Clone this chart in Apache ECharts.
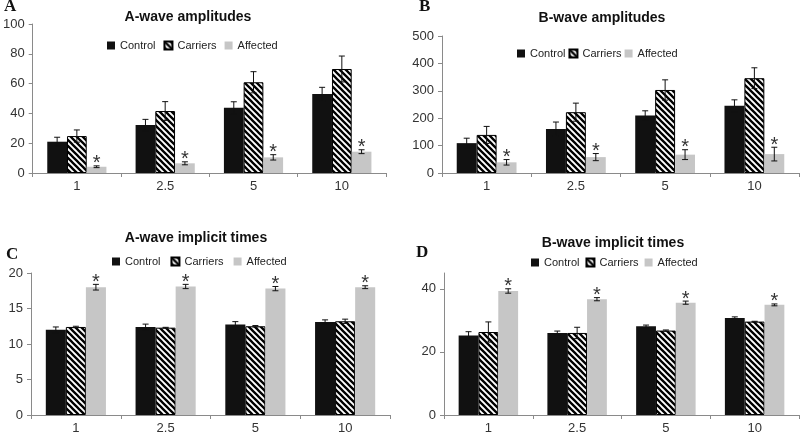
<!DOCTYPE html>
<html><head><meta charset="utf-8">
<script src="https://cdn.jsdelivr.net/npm/echarts@6/dist/echarts.min.js"></script>
<style>html,body{margin:0;padding:0;background:#fff}#c{width:800px;height:435px}</style>
</head><body><div id="c"></div>
<script>
const categories = ['1', '2.5', '5', '10'];
const seriesNames = ['Control', 'Carriers', 'Affected'];

// A-wave amplitudes
const aAmpControl = [21, 32.2, 43.8, 53];
const aAmpControlErr = [3, 3.8, 4, 4.5];
const aAmpCarriers = [24.8, 41.6, 60.9, 69.8];
const aAmpCarriersErr = [4.1, 6.3, 7.1, 8.7];
const aAmpAffected = [4.2, 6.5, 10.5, 14.3];
const aAmpAffectedErr = [0.6, 1, 1.8, 1.3];

// B-wave amplitudes
const bAmpControl = [109, 161, 210, 245];
const bAmpControlErr = [18, 25, 17, 22];
const bAmpCarriers = [139, 222, 303, 346];
const bAmpCarriersErr = [31, 33, 37, 38];
const bAmpAffected = [39, 58, 67, 69];
const bAmpAffectedErr = [10, 13, 18, 25];

// A-wave implicit times
const aTimeControl = [12.0, 12.4, 12.75, 13.1];
const aTimeControlErr = [0.4, 0.4, 0.4, 0.3];
const aTimeCarriers = [12.4, 12.3, 12.5, 13.2];
const aTimeCarriersErr = [0.1, 0.05, 0.1, 0.3];
const aTimeAffected = [18.0, 18.1, 17.8, 18.0];
const aTimeAffectedErr = [0.4, 0.3, 0.3, 0.2];

// B-wave implicit times
const bTimeControl = [25.2, 26.0, 28.1, 30.7];
const bTimeControlErr = [1.2, 0.6, 0.4, 0.4];
const bTimeCarriers = [26.3, 26.0, 26.75, 29.6];
const bTimeCarriersErr = [3.2, 1.8, 0.2, 0.1];
const bTimeAffected = [39.3, 36.7, 35.6, 34.9];
const bTimeAffectedErr = [0.7, 0.5, 0.5, 0.3];

const panelTitles = ['A-wave amplitudes', 'B-wave amplitudes', 'A-wave implicit times', 'B-wave implicit times'];
const panelLetters = ['A', 'B', 'C', 'D'];

// ---------- styling / layout ----------
const GAP = 0.33;
const tile = document.createElement('canvas');
tile.width = 6; tile.height = 6;
(function () {
  const g = tile.getContext('2d');
  g.fillStyle = '#fff'; g.fillRect(0, 0, 6, 6);
  g.strokeStyle = '#000'; g.lineWidth = 2.3;
  g.beginPath();
  g.moveTo(-2, -2); g.lineTo(8, 8);
  g.moveTo(-2, 4); g.lineTo(2, 8);
  g.moveTo(4, -2); g.lineTo(8, 2);
  g.stroke();
})();
const hatch = { image: tile, repeat: 'repeat' };

const panels = [
  { data: [[aAmpControl, aAmpControlErr], [aAmpCarriers, aAmpCarriersErr], [aAmpAffected, aAmpAffectedErr]],
    grid: { left: 27, width: 359, top: 24, height: 149 }, y: { max: 100, interval: 20 },
    legend: { left: 107, top: 40, itemGap: 8 }, title: [188, 17], letter: [4, 7] },
  { data: [[bAmpControl, bAmpControlErr], [bAmpCarriers, bAmpCarriersErr], [bAmpAffected, bAmpAffectedErr]],
    grid: { left: 442, width: 357, top: 36, height: 137 }, y: { max: 500, interval: 100 },
    legend: { left: 517, top: 48, itemGap: 3 }, title: [602, 18], letter: [419, 7] },
  { data: [[aTimeControl, aTimeControlErr], [aTimeCarriers, aTimeCarriersErr], [aTimeAffected, aTimeAffectedErr]],
    grid: { left: 31, width: 359, top: 273, height: 147 }, y: { max: 20, interval: 5 },
    legend: { left: 112, top: 256, itemGap: 10 }, title: [196, 238], letter: [6, 255] },
  { data: [[bTimeControl, bTimeControlErr], [bTimeCarriers, bTimeCarriersErr], [bTimeAffected, bTimeAffectedErr]],
    grid: { left: 444, width: 355, top: 273, height: 146 }, y: { max: 45, interval: 20, hideMax: true },
    legend: { left: 531, top: 257, itemGap: 6 }, title: [613, 243], letter: [416, 253] }
];

const colors = ['#111111', hatch, '#c6c6c6'];
const axisColor = '#8a8a8a';
const labelFont = 'Liberation Sans, Arial, sans-serif';

function errRender(k, star) {
  return function (params, api) {
    const i = api.value(0), v = api.value(1), e = api.value(2);
    const band = api.size([1, 0])[0];
    const w = band * (1 - GAP) / 3;
    const x = api.coord([i, v])[0] + (k - 1) * w;
    const yT = api.coord([i, v + e])[1];
    const yB = api.coord([i, v - e])[1];
    const st = { stroke: '#111', lineWidth: 1 };
    const ch = [
      { type: 'line', shape: { x1: x, y1: yT, x2: x, y2: yB }, style: st },
      { type: 'line', shape: { x1: x - 3, y1: yT, x2: x + 3, y2: yT }, style: st },
      { type: 'line', shape: { x1: x - 3, y1: yB, x2: x + 3, y2: yB }, style: st }
    ];
    if (star) {
      ch.push({ type: 'text', style: { text: '*', x: x, y: yT - 12, fill: '#333', font: '20px ' + labelFont, textAlign: 'center', textVerticalAlign: 'top' } });
    }
    return { type: 'group', children: ch };
  };
}

const grid = [], xAxis = [], yAxis = [], series = [], legend = [], graphic = [];
panels.forEach((p, gi) => {
  grid.push(p.grid);
  xAxis.push({
    type: 'category', gridIndex: gi, data: categories, boundaryGap: true,
    axisLine: { lineStyle: { color: axisColor } },
    axisTick: { show: true, length: 4, alignWithLabel: false, lineStyle: { color: axisColor } },
    axisLabel: { color: '#333', fontSize: 13, fontFamily: labelFont, margin: 7 }
  });
  yAxis.push({
    type: 'value', gridIndex: gi, min: 0, max: p.y.max, interval: p.y.interval,
    axisLine: { show: true, lineStyle: { color: axisColor } },
    axisTick: { show: true, length: 4, lineStyle: { color: axisColor } },
    splitLine: { show: false },
    axisLabel: { color: '#333', fontSize: 13, fontFamily: labelFont, margin: 8, showMaxLabel: !p.y.hideMax }
  });
  p.data.forEach((d, k) => {
    series.push({
      type: 'bar', name: seriesNames[k], xAxisIndex: gi, yAxisIndex: gi,
      data: d[0], barGap: '0%', barCategoryGap: (GAP * 100) + '%',
      itemStyle: { color: colors[k], borderColor: k === 1 ? '#000' : null, borderWidth: k === 1 ? 1 : 0 },
      emphasis: { disabled: true }, silent: true
    });
  });
  p.data.forEach((d, k) => {
    series.push({
      type: 'custom', name: 'err' + gi + '_' + k, xAxisIndex: gi, yAxisIndex: gi, z: 5,
      data: d[0].map((v, i) => [i, v, d[1][i]]),
      renderItem: errRender(k, k === 2), silent: true
    });
  });
  legend.push({
    left: p.legend.left, top: p.legend.top, padding: 0, itemGap: p.legend.itemGap, itemWidth: 8, itemHeight: 8,
    icon: 'rect', data: seriesNames, selectedMode: false,
    textStyle: { fontSize: 11, color: '#222', fontFamily: labelFont }
  });
  graphic.push({
    type: 'text', silent: true,
    style: { text: panelTitles[gi], x: p.title[0], y: p.title[1], textAlign: 'center', textVerticalAlign: 'middle',
      font: 'bold 14px ' + labelFont, fill: '#111' }
  });
  graphic.push({
    type: 'text', silent: true,
    style: { text: panelLetters[gi], x: p.letter[0], y: p.letter[1], textAlign: 'left', textVerticalAlign: 'middle',
      font: 'bold 17px Liberation Serif, DejaVu Serif, serif', fill: '#111' }
  });
});

const chart = echarts.init(document.getElementById('c'));
chart.setOption({ animation: false, grid, xAxis, yAxis, series, legend, graphic });
</script></body></html>
